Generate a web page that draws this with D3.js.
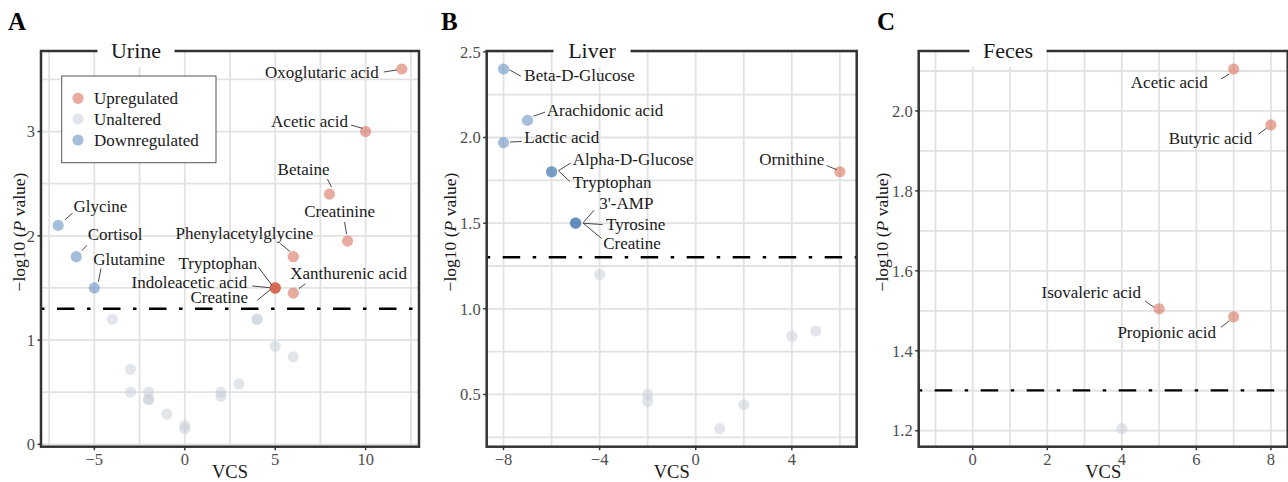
<!DOCTYPE html>
<html>
<head>
<meta charset="utf-8">
<script src="https://cdn.jsdelivr.net/npm/d3@7"></script>
<style>
  body { margin: 0; background: #fff; }
  svg { display: block; font-family: "Liberation Serif", "Times New Roman", serif; }
</style>
</head>
<body>
<svg id="chart" width="1288" height="482"></svg>
<script>
// ---------- data (name, VCS, -log10 P) ----------
const urineUp = [
  ["Oxoglutaric acid", 12, 3.6], ["Acetic acid", 10, 3.0], ["Betaine", 8, 2.4],
  ["Creatinine", 9, 1.95], ["Phenylacetylglycine", 6, 1.8], ["Xanthurenic acid", 6, 1.45],
  ["Tryptophan", 5, 1.5], ["Indoleacetic acid", 5, 1.5], ["Creatine", 5, 1.5]
];
const urineDown = [["Glycine", -7, 2.1], ["Cortisol", -6, 1.8], ["Glutamine", -5, 1.5]];
const urineUnaltered = [
  [-4, 1.2], [4, 1.2], [4, 1.2], [5, 0.94], [6, 0.84], [-3, 0.72], [-3, 0.5],
  [-2, 0.5], [-2, 0.43], [-2, 0.43], [-1, 0.29], [0, 0.18], [0, 0.15],
  [2, 0.5], [2, 0.46], [3, 0.58]
];

const liverUp = [["Ornithine", 6, 1.8]];
const liverDown = [
  ["Beta-D-Glucose", -8, 2.4], ["Arachidonic acid", -7, 2.1], ["Lactic acid", -8, 1.97],
  ["Alpha-D-Glucose", -6, 1.8], ["Tryptophan", -6, 1.8],
  ["3'-AMP", -5, 1.5], ["Tyrosine", -5, 1.5], ["Creatine", -5, 1.5]
];
const liverUnaltered = [[-4, 1.2], [-2, 0.5], [-2, 0.46], [1, 0.3], [2, 0.44], [4, 0.84], [5, 0.87]];

const fecesUp = [
  ["Acetic acid", 7, 2.105], ["Butyric acid", 8, 1.965],
  ["Isovaleric acid", 5, 1.505], ["Propionic acid", 7, 1.485]
];
const fecesDown = [];
const fecesUnaltered = [[4, 1.205]];

const legendItems = ["Upregulated", "Unaltered", "Downregulated"];
const threshold = -Math.log10(0.05);

// ---------- label placement (px offsets from point: text dx, dy, anchor, leader x1,y1,x2,y2) ----------
const urineLabels = {
  "Oxoglutaric acid": [-23, 9.5, "end", -18, 3, -5, 1],
  "Acetic acid": [-17.6, -5, "end", -14.6, -6.5, -3, -3.2],
  "Betaine": [0, -19, "end", -2, -15, 2, -7],
  "Creatinine": [27.5, -24, "end", -3, -19, -1, -7],
  "Phenylacetylglycine": [20, -18, "end", -13, -13, -3, -5],
  "Xanthurenic acid": [-3, -14.5, "start", 5.6, -4.5, 12.2, -9.5],
  "Tryptophan": [-18, -18.6, "end", -17, -21, -3.2, -2.6],
  "Indoleacetic acid": [-28, 0, "end", -23, -2, -5.6, -0.3],
  "Creatine": [-27.2, 14.7, "end", -18, 12.4, -4.6, 1.4],
  "Glycine": [15.3, -13.2, "start", 6.9, -5.8, 14.3, -12.2],
  "Cortisol": [11.5, -16.2, "start", 5.5, -6.2, 10.8, -11.2],
  "Glutamine": [-1, -23.3, "start", 4, -6, 6.6, -19.3]
};
const liverLabels = {
  "Beta-D-Glucose": [20.8, 12.5, "start", 5.8, 0.8, 17.2, 7.1],
  "Arachidonic acid": [19.2, -4.8, "start", 5.8, -4.2, 17.5, -8.2],
  "Lactic acid": [20.8, 0.4, "start", 6.5, -0.6, 18.2, -1.2],
  "Alpha-D-Glucose": [21.2, -7.1, "start", 6.8, -1.1, 19.2, -8.8],
  "Tryptophan": [21.2, 16.5, "start", 6.8, -1.1, 18.5, 9.9],
  "3'-AMP": [23.7, -13.9, "start", 7.7, -0.6, 18.4, -12.9],
  "Tyrosine": [30.4, 6.8, "start", 7.7, 0.1, 27.1, 1.4],
  "Creatine": [27.7, 25.4, "start", 7.7, 0.1, 26.1, 15.4],
  "Ornithine": [-15.6, -7.1, "end", -13.2, -6.1, -3.2, -2.1]
};
const fecesLabels = {
  "Acetic acid": [-25.9, 18.7, "end", -12.6, 10, -4.3, 5],
  "Butyric acid": [-18.6, 18.7, "end", -12.6, 9.4, -4.2, 3.1],
  "Isovaleric acid": [-18, -10.5, "end", -14, -7.8, -5, -1.5],
  "Propionic acid": [-17.6, 21.5, "end", -12.6, 10.5, -4.3, 3.9]
};

const colors = { up: "#D1573F", gray: "#C5CDD5", down: "#4B7DB7" };
const TOP = 51, BOTTOM = 446.7;

const panels = [
  { letter: "A", letterX: 8, title: "Urine", titleX: 136, left: 41, right: 419,
    up: urineUp, down: urineDown, gray: urineUnaltered, labels: urineLabels,
    xTicks: [-5, 0, 5, 10], xStep: 2.5, yTicks: [0, 1, 2, 3], yStep: 0.5, yFmt: d3.format("d"),
    yTitleX: 24.5, legend: true },
  { letter: "B", letterX: 441, title: "Liver", titleX: 592, left: 486.7, right: 856.7,
    up: liverUp, down: liverDown, gray: liverUnaltered, labels: liverLabels,
    xTicks: [-8, -4, 0, 4], xStep: 2, yTicks: [0.5, 1, 1.5, 2, 2.5], yStep: 0.25, yFmt: d3.format(".1f"),
    yTitleX: 456 },
  { letter: "C", letterX: 877, title: "Feces", titleX: 1008, left: 918.7, right: 1287.7,
    up: fecesUp, down: fecesDown, gray: fecesUnaltered, labels: fecesLabels,
    xTicks: [0, 2, 4, 6, 8], xStep: 1, yTicks: [1.2, 1.4, 1.6, 1.8, 2.0], yStep: 0.1, yFmt: d3.format(".1f"),
    xLim: [-1.45, 8.45], yLim: [1.16, 2.15], yTitleX: 888 }
];

function expand(ext) {
  const r = ext[1] - ext[0];
  return [ext[0] - r * 0.05, ext[1] + r * 0.05];
}
function gridVals(dom, step) {
  const out = [];
  for (let v = Math.ceil(dom[0] / step - 1e-9) * step; v <= dom[1] + 1e-9; v += step) out.push(+v.toFixed(6));
  return out;
}

const svg = d3.select("#chart");

panels.forEach(p => {
  const pts = [
    ...p.gray.map(d => ({ x: d[0], y: d[1], s: "gray" })),
    ...p.up.map(d => ({ name: d[0], x: d[1], y: d[2], s: "up" })),
    ...p.down.map(d => ({ name: d[0], x: d[1], y: d[2], s: "down" }))
  ];
  const x = d3.scaleLinear().domain(p.xLim || expand(d3.extent(pts, d => d.x))).range([p.left, p.right]);
  const y = d3.scaleLinear().domain(p.yLim || expand(d3.extent(pts, d => d.y))).range([BOTTOM, TOP]);

  const g = svg.append("g");

  // grid
  g.selectAll("line.vg").data(gridVals(x.domain(), p.xStep)).join("line")
    .attr("x1", d => x(d)).attr("x2", d => x(d)).attr("y1", TOP).attr("y2", BOTTOM)
    .attr("stroke", "#e2e2e2").attr("stroke-width", 1.8);
  g.selectAll("line.hg").data(gridVals(y.domain(), p.yStep)).join("line")
    .attr("x1", p.left).attr("x2", p.right).attr("y1", d => y(d)).attr("y2", d => y(d))
    .attr("stroke", "#e2e2e2").attr("stroke-width", 1.8);

  // significance line
  g.append("line")
    .attr("x1", p.left).attr("x2", p.right).attr("y1", y(threshold)).attr("y2", y(threshold))
    .attr("stroke", "#000").attr("stroke-width", 2.4).attr("stroke-dasharray", "3.5,12.5,17.5,12.5");

  // points
  g.selectAll("circle.pt").data(pts).join("circle")
    .attr("cx", d => x(d.x)).attr("cy", d => y(d.y)).attr("r", 5.6)
    .attr("fill", d => colors[d.s]).attr("fill-opacity", 0.5);

  // labels + leaders
  const named = pts.filter(d => d.name && p.labels[d.name]);
  g.selectAll("line.lead").data(named).join("line")
    .attr("x1", d => x(d.x) + p.labels[d.name][3]).attr("y1", d => y(d.y) + p.labels[d.name][4])
    .attr("x2", d => x(d.x) + p.labels[d.name][5]).attr("y2", d => y(d.y) + p.labels[d.name][6])
    .attr("stroke", "#333").attr("stroke-width", 0.9);
  g.selectAll("text.lab").data(named).join("text")
    .attr("x", d => x(d.x) + p.labels[d.name][0]).attr("y", d => y(d.y) + p.labels[d.name][1])
    .attr("text-anchor", d => p.labels[d.name][2])
    .attr("font-size", 17).attr("fill", "#1a1a1a").text(d => d.name);

  // border
  g.append("rect").attr("x", p.left).attr("y", TOP).attr("width", p.right - p.left).attr("height", BOTTOM - TOP)
    .attr("fill", "none").attr("stroke", "#333").attr("stroke-width", 2.5);

  // ticks
  g.selectAll("line.xt").data(p.xTicks).join("line")
    .attr("x1", d => x(d)).attr("x2", d => x(d)).attr("y1", BOTTOM).attr("y2", BOTTOM + 3.5)
    .attr("stroke", "#333").attr("stroke-width", 1.5);
  g.selectAll("text.xt").data(p.xTicks).join("text")
    .attr("x", d => x(d)).attr("y", 465).attr("text-anchor", "middle")
    .attr("font-size", 16.5).attr("fill", "#4d4d4d").text(d3.format("d"));
  g.selectAll("line.yt").data(p.yTicks).join("line")
    .attr("x1", p.left - 3.5).attr("x2", p.left).attr("y1", d => y(d)).attr("y2", d => y(d))
    .attr("stroke", "#333").attr("stroke-width", 1.5);
  g.selectAll("text.yt").data(p.yTicks).join("text")
    .attr("x", p.left - 6).attr("y", d => y(d)).attr("dy", "0.35em").attr("text-anchor", "end")
    .attr("font-size", 16.5).attr("fill", "#4d4d4d").text(p.yFmt);

  // axis titles
  g.append("text").attr("x", (p.left + p.right) / 2).attr("y", 478).attr("text-anchor", "middle")
    .attr("font-size", 18.5).attr("fill", "#1a1a1a").text("VCS");
  const yt = g.append("text").attr("transform", `translate(${p.yTitleX},232) rotate(-90)`)
    .attr("text-anchor", "middle").attr("font-size", 17.5).attr("fill", "#1a1a1a");
  yt.append("tspan").text("\u2212log10 (");
  yt.append("tspan").attr("font-style", "italic").text("P");
  yt.append("tspan").text(" value)");

  // title box breaking top border
  g.append("rect").attr("x", p.titleX - 38.5).attr("y", 36).attr("width", 77).attr("height", 31).attr("fill", "#fff");
  g.append("text").attr("x", p.titleX).attr("y", 58).attr("text-anchor", "middle")
    .attr("font-size", 22).attr("fill", "#1a1a1a").text(p.title);

  // panel letter
  svg.append("text").attr("x", p.letterX).attr("y", 30).attr("font-size", 25).attr("font-weight", "bold")
    .attr("fill", "#000").text(p.letter);

  if (p.legend) {
    const lg = g.append("g");
    lg.append("rect").attr("x", 61.7).attr("y", 76).attr("width", 154.3).attr("height", 86.7)
      .attr("fill", "#fff").attr("stroke", "#555").attr("stroke-width", 1);
    const keys = ["up", "gray", "down"];
    const ly = d3.scalePoint().domain(legendItems).range([98.3, 140]);
    lg.selectAll("circle").data(legendItems).join("circle")
      .attr("cx", 78).attr("cy", d => ly(d)).attr("r", 5.6)
      .attr("fill", (d, i) => colors[keys[i]]).attr("fill-opacity", 0.5);
    lg.selectAll("text").data(legendItems).join("text")
      .attr("x", 94).attr("y", d => ly(d) + 6).attr("font-size", 17).attr("fill", "#1a1a1a").text(d => d);
  }
});
</script>
</body>
</html>
